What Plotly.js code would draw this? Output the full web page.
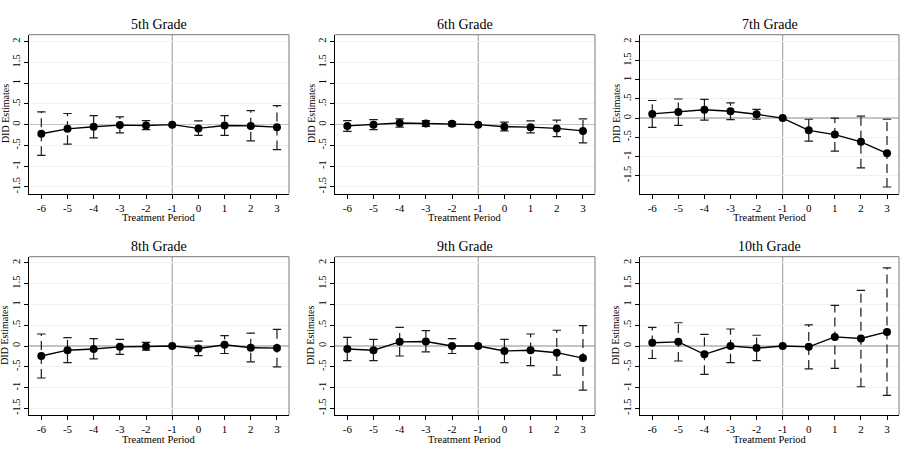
<!DOCTYPE html>
<html>
<head>
<meta charset="utf-8">
<script src="https://cdn.plot.ly/plotly-3.0.1.min.js"></script>
<style>
  html, body { margin: 0; padding: 0; background: #fff; }
  #chart { width: 917px; height: 463px; }
</style>
</head>
<body>
<div id="chart"></div>
<script>
// Event-study (DID) estimates by grade, with 95% confidence intervals.
// Period -1 is the reference period (normalised to zero, no interval).
const periods = [-6, -5, -4, -3, -2, -1, 0, 1, 2, 3];
const periodLabels = ['-6', '-5', '-4', '-3', '-2', '-1', '0', '1', '2', '3'];
const yTickVals = [-1.5, -1, -0.5, 0, 0.5, 1, 1.5, 2];
const yTickText = ['-1.5', '-1', '-.5', '0', '.5', '1', '1.5', '2'];
const gradeNames = ['5th Grade', '6th Grade', '7th Grade', '8th Grade', '9th Grade', '10th Grade'];

const est5 = [-0.22, -0.10, -0.05, -0.01, -0.02, 0, -0.09, -0.02, -0.03, -0.06];
const lo5  = [-0.74, -0.47, -0.32, -0.20, -0.12, null, -0.26, -0.26, -0.39, -0.60];
const hi5  = [ 0.31,  0.27,  0.22,  0.19,  0.10, null,  0.09,  0.22,  0.34,  0.46];

const est6 = [-0.03, 0.00, 0.04, 0.03, 0.02, 0, -0.05, -0.06, -0.09, -0.15];
const lo6  = [-0.16, -0.12, -0.06, -0.04, -0.03, null, -0.15, -0.20, -0.29, -0.44];
const hi6  = [ 0.10,  0.12,  0.14,  0.10,  0.07, null,  0.06,  0.09,  0.11,  0.14];

const est7 = [0.11, 0.16, 0.22, 0.18, 0.10, 0, -0.32, -0.43, -0.62, -0.92];
const lo7  = [-0.24, -0.19, -0.05, -0.04, -0.03, null, -0.60, -0.86, -1.30, -1.80];
const hi7  = [ 0.46,  0.50,  0.49,  0.40,  0.23, null, -0.03,  0.00,  0.05, -0.03];

const est8 = [-0.24, -0.10, -0.07, -0.02, -0.01, 0, -0.06, 0.03, -0.04, -0.05];
const lo8  = [-0.77, -0.40, -0.31, -0.20, -0.10, null, -0.23, -0.18, -0.38, -0.50];
const hi8  = [ 0.29,  0.20,  0.18,  0.16,  0.09, null,  0.12,  0.25,  0.31,  0.40];

const est9 = [-0.07, -0.10, 0.10, 0.11, 0.00, 0, -0.12, -0.10, -0.16, -0.29];
const lo9  = [-0.35, -0.35, -0.24, -0.14, -0.18, null, -0.40, -0.47, -0.70, -1.06];
const hi9  = [ 0.21,  0.16,  0.45,  0.37,  0.18, null,  0.16,  0.29,  0.38,  0.49];

const est10 = [0.08, 0.10, -0.20, 0.00, -0.05, 0, -0.02, 0.22, 0.18, 0.34];
const lo10  = [-0.30, -0.36, -0.68, -0.40, -0.35, null, -0.55, -0.54, -0.98, -1.19];
const hi10  = [ 0.45,  0.56,  0.28,  0.41,  0.26, null,  0.51,  0.98,  1.34,  1.88];

const series = [
  { est: est5, lo: lo5, hi: hi5 },
  { est: est6, lo: lo6, hi: hi6 },
  { est: est7, lo: lo7, hi: hi7 },
  { est: est8, lo: lo8, hi: hi8 },
  { est: est9, lo: lo9, hi: hi9 },
  { est: est10, lo: lo10, hi: hi10 }
];

// Panel geometry (pixels in a 917 x 463 canvas)
const W = 917, H = 463;
const colsPx = [[29, 289], [335, 595], [640, 899]];
const rowsPx = [[34.7, 193.5], [256.7, 415]];
const yRanges = [[-1.66, 2.17], [-1.66, 2.17], [-1.97, 2.18], [-1.66, 2.15], [-1.66, 2.15], [-1.66, 2.15]];
const xRange = [-6.47, 3.46];

const serif = 'Liberation Serif, Times New Roman, serif';
const ink = '#1a1a1a';

const traces = [];
const layout = {
  width: W, height: H,
  margin: { l: 0, r: 0, t: 0, b: 0 },
  paper_bgcolor: '#fff',
  plot_bgcolor: '#fff',
  showlegend: false,
  font: { family: serif, color: '#000', size: 10 },
  shapes: [],
  annotations: []
};

series.forEach((s, k) => {
  const n = k + 1;
  const xa = 'x' + (n === 1 ? '' : n);
  const ya = 'y' + (n === 1 ? '' : n);
  const col = colsPx[k % 3], row = rowsPx[Math.floor(k / 3)];
  const xd = [col[0] / W, col[1] / W];
  const yd = [1 - row[1] / H, 1 - row[0] / H];

  // dashed confidence-interval spikes
  const segX = [], segY = [], capX = [], capY = [];
  periods.forEach((p, i) => {
    if (s.lo[i] === null) return;
    segX.push(p, p, null);
    segY.push(s.lo[i], s.hi[i], null);
    capX.push(p, p);
    capY.push(s.lo[i], s.hi[i]);
  });
  traces.push({
    type: 'scatter', mode: 'lines', x: segX, y: segY, xaxis: xa, yaxis: ya,
    line: { color: ink, width: 1.2, dash: '9px,5px' }, hoverinfo: 'skip'
  });
  traces.push({
    type: 'scatter', mode: 'markers', x: capX, y: capY, xaxis: xa, yaxis: ya,
    marker: { symbol: 'line-ew', size: 6, line: { color: ink, width: 1.2 } }, hoverinfo: 'skip'
  });
  // point estimates
  traces.push({
    type: 'scatter', mode: 'lines+markers', x: periods, y: s.est, xaxis: xa, yaxis: ya,
    line: { color: '#000', width: 1.4 },
    marker: { color: '#000', size: 8, symbol: 'circle' }
  });

  layout['xaxis' + (n === 1 ? '' : n)] = {
    domain: xd, anchor: ya, range: xRange, fixedrange: true,
    tickvals: periods, ticktext: periodLabels,
    ticks: 'outside', ticklen: 4, tickwidth: 1, tickcolor: '#000',
    showline: true, linecolor: '#000', linewidth: 1,
    showgrid: false, zeroline: false,
    tickfont: { family: serif, size: 11, color: '#000' }
  };
  layout['yaxis' + (n === 1 ? '' : n)] = {
    domain: yd, anchor: xa, range: yRanges[k], fixedrange: true,
    tickvals: yTickVals, ticktext: yTickText, tickangle: -90,
    ticks: 'outside', ticklen: 4, tickwidth: 1, tickcolor: '#000',
    showline: true, linecolor: '#000', linewidth: 1,
    showgrid: true, gridcolor: '#f1f1f1', gridwidth: 1,
    zeroline: true, zerolinecolor: '#c4c4c4', zerolinewidth: 1.6,
    tickfont: { family: serif, size: 10.5, color: '#000' }
  };

  // reference-period line at -1
  layout.shapes.push({
    type: 'line', xref: xa, yref: ya + ' domain', x0: -1, x1: -1, y0: 0, y1: 1,
    line: { color: '#a0a0a0', width: 1.1 }, layer: 'below'
  });
  // top and right frame of the plot region
  layout.shapes.push({
    type: 'line', xref: xa + ' domain', yref: ya + ' domain', x0: 0, x1: 1, y0: 1, y1: 1,
    line: { color: '#7a7a7a', width: 1 }, layer: 'above'
  });
  layout.shapes.push({
    type: 'line', xref: xa + ' domain', yref: ya + ' domain', x0: 1, x1: 1, y0: 0, y1: 1,
    line: { color: '#7a7a7a', width: 1 }, layer: 'above'
  });

  const cx = (col[0] + col[1]) / 2 / W;
  const cy = 1 - (row[0] + row[1]) / 2 / H;
  // panel title
  layout.annotations.push({
    text: gradeNames[k], xref: 'paper', yref: 'paper', x: cx, y: 1 - (row[0] - 10.5) / H,
    xanchor: 'center', yanchor: 'middle', showarrow: false,
    font: { family: serif, size: 14, color: '#000' }
  });
  // x-axis title
  layout.annotations.push({
    text: 'Treatment Period', xref: 'paper', yref: 'paper', x: cx, y: 1 - (row[1] + 24) / H,
    xanchor: 'center', yanchor: 'middle', showarrow: false,
    font: { family: serif, size: 10.5, color: '#000' }
  });
  // y-axis title
  layout.annotations.push({
    text: 'DID Estimates', xref: 'paper', yref: 'paper', x: (col[0] - 24) / W, y: cy,
    xanchor: 'center', yanchor: 'middle', textangle: -90, showarrow: false,
    font: { family: serif, size: 10, color: '#000' }
  });
});

Plotly.newPlot('chart', traces, layout, { displayModeBar: false, staticPlot: true });
</script>
</body>
</html>
